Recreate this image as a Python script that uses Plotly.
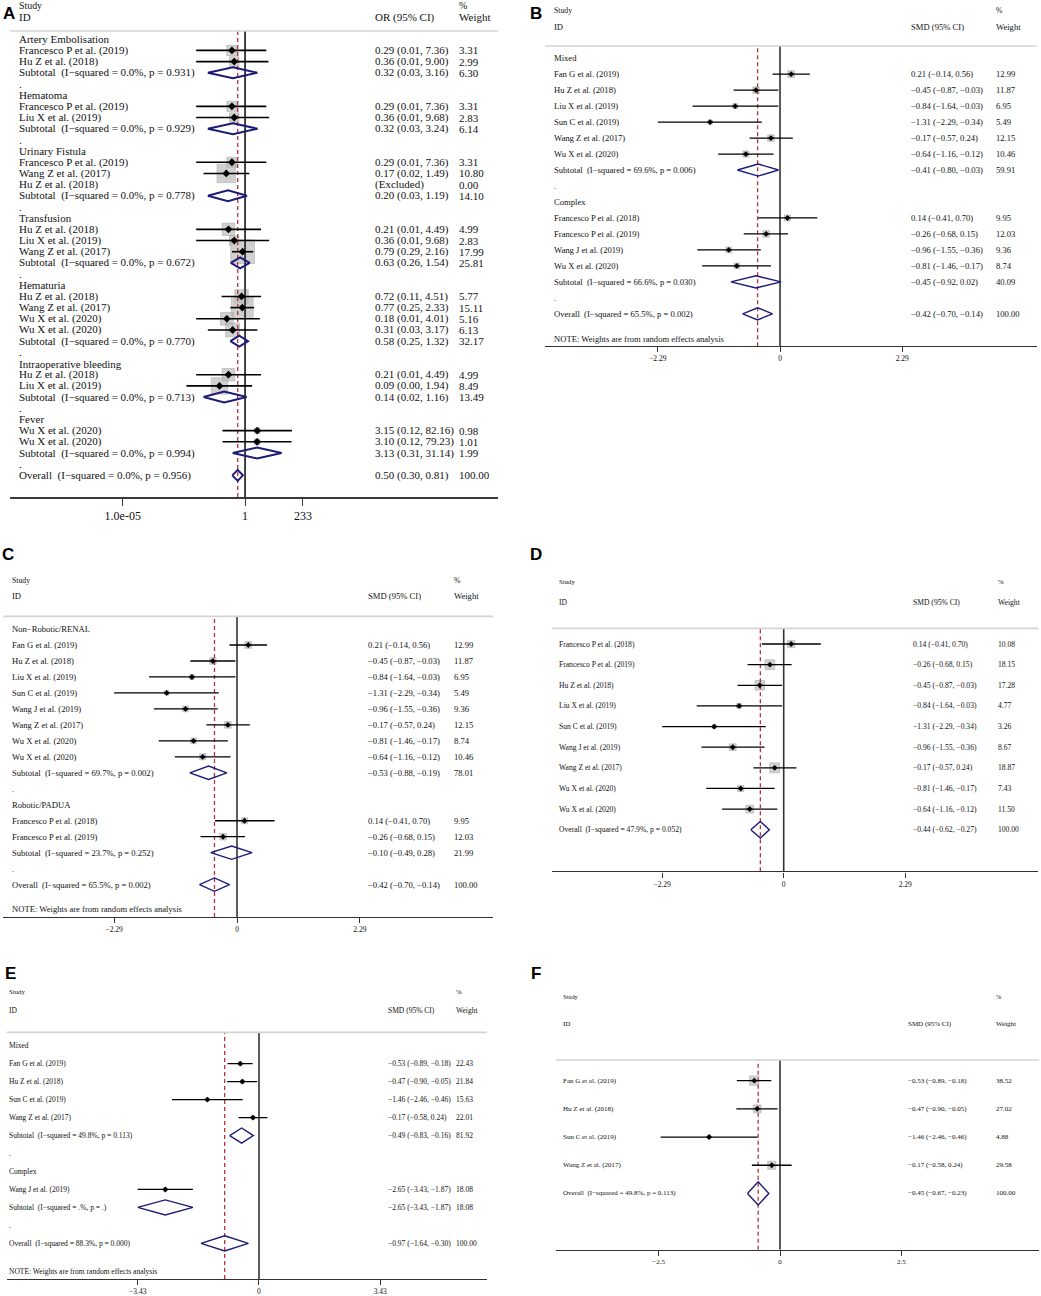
import math
import plotly.graph_objects as go

W, H = 1041, 1296
SERIF = "Liberation Serif, Times New Roman, serif"
SANS = "Liberation Sans, Arial, sans-serif"
NAVY = "#1c1c78"
RED = "#b5323c"

# kind codes: g = group heading, s = study, x = excluded study, t = subtotal,
# o = overall, . = spacer, n = note
NS = "\u00a0 "

# ---- A: complications, odds ratios ----
a_labels = [
    "Artery Embolisation", "Francesco P et al. (2019)", "Hu Z et al. (2018)",
    "Subtotal" + NS + "(I−squared = 0.0%, p = 0.931)", ".",
    "Hematoma", "Francesco P et al. (2019)", "Liu X et al. (2019)",
    "Subtotal" + NS + "(I−squared = 0.0%, p = 0.929)", ".",
    "Urinary Fistula", "Francesco P et al. (2019)", "Wang Z et al. (2017)", "Hu Z et al. (2018)",
    "Subtotal" + NS + "(I−squared = 0.0%, p = 0.778)", ".",
    "Transfusion", "Hu Z et al. (2018)", "Liu X et al. (2019)", "Wang Z et al. (2017)",
    "Subtotal" + NS + "(I−squared = 0.0%, p = 0.672)", ".",
    "Hematuria", "Hu Z et al. (2018)", "Wang Z et al. (2017)", "Wu X et al. (2020)", "Wu X et al. (2020)",
    "Subtotal" + NS + "(I−squared = 0.0%, p = 0.770)", ".",
    "Intraoperative bleeding", "Hu Z et al. (2018)", "Liu X et al. (2019)",
    "Subtotal" + NS + "(I−squared = 0.0%, p = 0.713)", ".",
    "Fever", "Wu X et al. (2020)", "Wu X et al. (2020)",
    "Subtotal" + NS + "(I−squared = 0.0%, p = 0.994)", ".",
    "Overall" + NS + "(I−squared = 0.0%, p = 0.956)",
]
a_kind = "gsst.gsst.gssxt.gssst.gsssst.gsst.gsst.o"
a_est = [0.29, 0.36, 0.32, 0.29, 0.36, 0.32, 0.29, 0.17, 0.20, 0.21, 0.36, 0.79, 0.63,
         0.72, 0.77, 0.18, 0.31, 0.58, 0.21, 0.09, 0.14, 3.15, 3.10, 3.13, 0.50]
a_lo = [0.01, 0.01, 0.03, 0.01, 0.01, 0.03, 0.01, 0.02, 0.03, 0.01, 0.01, 0.29, 0.26,
        0.11, 0.25, 0.01, 0.03, 0.25, 0.01, 0.004, 0.02, 0.12, 0.12, 0.31, 0.30]
a_hi = [7.36, 9.00, 3.16, 7.36, 9.68, 3.24, 7.36, 1.49, 1.19, 4.49, 9.68, 2.16, 1.54,
        4.51, 2.33, 4.01, 3.17, 1.32, 4.49, 1.94, 1.16, 82.16, 79.23, 31.14, 0.81]
a_wt = [3.31, 2.99, 6.30, 3.31, 2.83, 6.14, 3.31, 10.80, 0.00, 14.10, 4.99, 2.83, 17.99, 25.81,
        5.77, 15.11, 5.16, 6.13, 32.17, 4.99, 8.49, 13.49, 0.98, 1.01, 1.99, 100.00]
a_ticks = [1e-05, 1, 233]
a_ticktext = ["1.0e-05", "1", "233"]

NOTE = "NOTE: Weights are from random effects analysis"

# ---- B ----
b_labels = [
    "Mixed", "Fan G et al. (2019)", "Hu Z et al. (2018)", "Liu X et al. (2019)", "Sun C et al. (2019)",
    "Wang Z et al. (2017)", "Wu X et al. (2020)", "Subtotal" + NS + "(I−squared = 69.6%, p = 0.006)", ".",
    "Complex", "Francesco P et al. (2018)", "Francesco P et al. (2019)", "Wang J et al. (2019)",
    "Wu X et al. (2020)", "Subtotal" + NS + "(I−squared = 66.6%, p = 0.030)", ".",
    "Overall" + NS + "(I−squared = 65.5%, p = 0.002)", NOTE,
]
b_kind = "gsssssst.gsssst.on"
b_est = [0.21, -0.45, -0.84, -1.31, -0.17, -0.64, -0.41, 0.14, -0.26, -0.96, -0.81, -0.45, -0.42]
b_lo = [-0.14, -0.87, -1.64, -2.29, -0.57, -1.16, -0.80, -0.41, -0.68, -1.55, -1.46, -0.92, -0.70]
b_hi = [0.56, -0.03, -0.03, -0.34, 0.24, -0.12, -0.03, 0.70, 0.15, -0.36, -0.17, 0.02, -0.14]
b_wt = [12.99, 11.87, 6.95, 5.49, 12.15, 10.46, 59.91, 9.95, 12.03, 9.36, 8.74, 40.09, 100.00]
b_ticks = [-2.29, 0, 2.29]
b_ticktext = ["−2.29", "0", "2.29"]

# ---- C ----
c_labels = [
    "Non−Robotic/RENAL", "Fan G et al. (2019)", "Hu Z et al. (2018)", "Liu X et al. (2019)",
    "Sun C et al. (2019)", "Wang J et al. (2019)", "Wang Z et al. (2017)", "Wu X et al. (2020)",
    "Wu X et al. (2020)", "Subtotal" + NS + "(I−squared = 69.7%, p = 0.002)", ".",
    "Robotic/PADUA", "Francesco P et al. (2018)", "Francesco P et al. (2019)",
    "Subtotal" + NS + "(I−squared = 23.7%, p = 0.252)", ".",
    "Overall" + NS + "(I−squared = 65.5%, p = 0.002)", NOTE,
]
c_kind = "gsssssssst.gsst.on"
c_est = [0.21, -0.45, -0.84, -1.31, -0.96, -0.17, -0.81, -0.64, -0.53, 0.14, -0.26, -0.10, -0.42]
c_lo = [-0.14, -0.87, -1.64, -2.29, -1.55, -0.57, -1.46, -1.16, -0.88, -0.41, -0.68, -0.49, -0.70]
c_hi = [0.56, -0.03, -0.03, -0.34, -0.36, 0.24, -0.17, -0.12, -0.19, 0.70, 0.15, 0.28, -0.14]
c_wt = [12.99, 11.87, 6.95, 5.49, 9.36, 12.15, 8.74, 10.46, 78.01, 9.95, 12.03, 21.99, 100.00]
c_ticks = [-2.29, 0, 2.29]
c_ticktext = ["−2.29", "0", "2.29"]

# ---- D ----
d_labels = [
    "Francesco P et al. (2018)", "Francesco P et al. (2019)", "Hu Z et al. (2018)", "Liu X et al. (2019)",
    "Sun C et al. (2019)", "Wang J et al. (2019)", "Wang Z et al. (2017)", "Wu X et al. (2020)",
    "Wu X et al. (2020)", "Overall" + NS + "(I−squared = 47.9%, p = 0.052)",
]
d_kind = "ssssssssso"
d_est = [0.14, -0.26, -0.45, -0.84, -1.31, -0.96, -0.17, -0.81, -0.64, -0.44]
d_lo = [-0.41, -0.68, -0.87, -1.64, -2.29, -1.55, -0.57, -1.46, -1.16, -0.62]
d_hi = [0.70, 0.15, -0.03, -0.03, -0.34, -0.36, 0.24, -0.17, -0.12, -0.27]
d_wt = [10.08, 18.15, 17.28, 4.77, 3.26, 8.67, 18.87, 7.43, 11.50, 100.00]
d_ticks = [-2.29, 0, 2.29]
d_ticktext = ["−2.29", "0", "2.29"]

# ---- E ----
e_labels = [
    "Mixed", "Fan G et al. (2019)", "Hu Z et al. (2018)", "Sun C et al. (2019)", "Wang Z et al. (2017)",
    "Subtotal" + NS + "(I−squared = 49.8%, p = 0.113)", ".",
    "Complex", "Wang J et al. (2019)", "Subtotal" + NS + "(I−squared = .%, p = .)", ".",
    "Overall" + NS + "(I−squared = 88.3%, p = 0.000)", NOTE,
]
e_kind = "gsssst.gst.on"
e_est = [-0.53, -0.47, -1.46, -0.17, -0.49, -2.65, -2.65, -0.97]
e_lo = [-0.89, -0.90, -2.46, -0.58, -0.83, -3.43, -3.43, -1.64]
e_hi = [-0.18, -0.05, -0.46, 0.24, -0.16, -1.87, -1.87, -0.30]
e_wt = [22.43, 21.84, 15.63, 22.01, 81.92, 18.08, 18.08, 100.00]
e_ticks = [-3.43, 0, 3.43]
e_ticktext = ["−3.43", "0", "3.43"]

# ---- F ----
f_labels = [
    "Fan G et al. (2019)", "Hu Z et al. (2018)", "Sun C et al. (2019)", "Wang Z et al. (2017)",
    "Overall" + NS + "(I−squared = 49.8%, p = 0.113)",
]
f_kind = "sssso"
f_est = [-0.53, -0.47, -1.46, -0.17, -0.45]
f_lo = [-0.89, -0.90, -2.46, -0.58, -0.67]
f_hi = [-0.18, -0.05, -0.46, 0.24, -0.23]
f_wt = [38.52, 27.02, 4.88, 29.58, 100.00]
f_ticks = [-2.5, 0, 2.5]
f_ticktext = ["−2.5", "0", "2.5"]


# panel layout, all in pixels of the 1041x1296 page
geom = {
    "A": dict(lx=9, ly=14, left=10, right=498, top=31, bottom=497.7, row0=39.3, step=11.2,
              xtype="log", xr=[-9.61, 10.34], col_lab=17.3, col_est=373, col_wt=456.7,
              h1=6, h2=17.5, est_head="OR (95% CI)", fs=11, tfs=12, tl=7,
              sq=5.6, dia=0.49, lw=1.6, dlw=2.0, pt=6, axw=1.6, axc="#3a3a3a"),
    "B": dict(lx=536, ly=14, left=545, right=1036.7, top=46, bottom=346.7, row0=58.3, step=16,
              xtype="linear", xr=[-4.404, 4.81], col_lab=552.3, col_est=909, col_wt=994,
              h1=10.7, h2=26.7, est_head="SMD (95% CI)", fs=8.6, tfs=7.5, tl=5,
              sq=1.9, dia=0.38, lw=1.3, dlw=1.4, pt=4.5, axw=1.3, axc="#333333"),
    "C": dict(lx=8, ly=555, left=3.3, right=493.3, top=617.3, bottom=918.3, row0=630, step=16,
              xtype="linear", xr=[-4.356, 4.777], col_lab=10, col_est=366, col_wt=451.7,
              h1=581.7, h2=597.3, est_head="SMD (95% CI)", fs=8.6, tfs=7.5, tl=5,
              sq=1.9, dia=0.42, lw=1.3, dlw=1.4, pt=4.5, axw=1.3, axc="#333333"),
    "D": dict(lx=536, ly=555, left=551.7, right=1038.3, top=629.3, bottom=872.7, row0=645, step=20.67,
              xtype="linear", xr=[-4.372, 4.798], col_lab=557.3, col_est=911, col_wt=996,
              h1=582.7, h2=603.3, est_head="SMD (95% CI)", fs=7.6, tfs=7.5, tl=5,
              sq=2.3, dia=0.4, lw=1.3, dlw=1.4, pt=4.5, axw=1.3, axc="#333333"),
    "E": dict(lx=10, ly=975, left=6.7, right=486.7, top=1034, bottom=1281, row0=1047.3, step=18,
              xtype="linear", xr=[-7.135, 6.44], col_lab=6.7, col_est=386, col_wt=454,
              h1=993.3, h2=1011.7, est_head="SMD (95% CI)", fs=7.5, tfs=7.5, tl=5,
              sq=0.8, dia=0.42, lw=1.3, dlw=1.4, pt=4.5, axw=1.3, axc="#333333"),
    "F": dict(lx=536, ly=975, left=556, right=1039.3, top=1061.7, bottom=1251.7, row0=1082.3, step=28.25,
              xtype="linear", xr=[-4.615, 5.342], col_lab=560.7, col_est=906, col_wt=994,
              h1=997.7, h2=1026, est_head="SMD (95% CI)", fs=7.0, tfs=7, tl=5,
              sq=1.5, dia=0.41, lw=1.3, dlw=1.4, pt=4.5, axw=1.3, axc="#333333"),
}


def num(v):
    return f"{v:.2f}".replace("-", "−")


fig = go.Figure()
anns = []
shapes = []


def txt(text, x, y, yref, size, anchor="middle"):
    anns.append(dict(text=text, x=x / W, xref="paper", y=y, yref=yref, xanchor="left",
                     yanchor=anchor, showarrow=False,
                     font=dict(family=SERIF, size=size, color="#111111")))


def panel(n, letter, labels, kind, est, lo, hi, wt, ticks, ticktext):
    g = geom[letter]
    sx = "" if n == 1 else str(n)
    xa, ya = "x" + sx, "y" + sx
    r_top = (g["top"] - g["row0"]) / g["step"]
    r_bot = (g["bottom"] - g["row0"]) / g["step"]

    sq_x, sq_y, sq_s = [], [], []
    ci_x, ci_y, pt_x, pt_y, dm_x, dm_y = [], [], [], [], [], []
    overall = None
    vals = iter(zip(est, lo, hi))
    wts = iter(wt)
    for i, (lab, k) in enumerate(zip(labels, kind)):
        y = i + 0.55 if k == "n" else i
        txt(lab, g["col_lab"], y, ya, g["fs"])
        if k == "x":
            txt("(Excluded)", g["col_est"], y, ya, g["fs"])
            txt(f"{next(wts):.2f}", g["col_wt"], y, ya, g["fs"])
        elif k in ("s", "t", "o"):
            e, l, h = next(vals)
            w = next(wts)
            txt(f"{num(e)} ({num(l)}, {num(h)})", g["col_est"], y, ya, g["fs"])
            txt(f"{w:.2f}", g["col_wt"], y, ya, g["fs"])
            if k == "s":
                sq_x.append(e)
                sq_y.append(y)
                sq_s.append(g["sq"] * math.sqrt(w))
                ci_x += [l, h, None]
                ci_y += [y, y, None]
                pt_x.append(e)
                pt_y.append(y)
            else:
                d = g["dia"]
                dm_x += [l, e, h, e, l, None]
                dm_y += [y, y - d, y, y + d, y, None]
                if k == "o":
                    overall = e

    null = 1 if g["xtype"] == "log" else 0
    fig.add_trace(go.Scatter(x=sq_x, y=sq_y, mode="markers", xaxis=xa, yaxis=ya,
                             marker=dict(symbol="square", size=sq_s, color="#bdbdbd",
                                         line=dict(color="#8f8f8f", width=0.6))))
    fig.add_trace(go.Scatter(x=[null, null], y=[r_bot, r_top], mode="lines", xaxis=xa, yaxis=ya,
                             line=dict(color=g["axc"], width=g["axw"] + 0.3)))
    fig.add_trace(go.Scatter(x=[overall, overall], y=[r_bot, r_top], mode="lines", xaxis=xa, yaxis=ya,
                             line=dict(color=RED, width=1.3, dash="4px,3px")))
    fig.add_trace(go.Scatter(x=ci_x, y=ci_y, mode="lines", xaxis=xa, yaxis=ya,
                             line=dict(color="black", width=g["lw"])))
    fig.add_trace(go.Scatter(x=pt_x, y=pt_y, mode="markers", xaxis=xa, yaxis=ya,
                             marker=dict(symbol="diamond", size=g["pt"], color="black")))
    fig.add_trace(go.Scatter(x=dm_x, y=dm_y, mode="lines", xaxis=xa, yaxis=ya,
                             line=dict(color=NAVY, width=g["dlw"])))

    fig.update_layout(**{
        "xaxis" + sx: dict(domain=[g["left"] / W, g["right"] / W], range=g["xr"], type=g["xtype"],
                           anchor=ya, showgrid=False, zeroline=False, showline=True,
                           linecolor=g["axc"], linewidth=g["axw"], ticks="outside", ticklen=g["tl"],
                           tickwidth=1, tickcolor=g["axc"], tickvals=ticks, ticktext=ticktext,
                           tickfont=dict(family=SERIF, size=g["tfs"], color="#111111")),
        "yaxis" + sx: dict(domain=[1 - g["bottom"] / H, 1 - g["top"] / H], range=[r_bot, r_top],
                           anchor=xa, visible=False),
    })

    # header rule and column titles
    shapes.append(dict(type="line", xref="paper", yref="paper", x0=g["left"] / W, x1=g["right"] / W,
                       y0=1 - g["top"] / H, y1=1 - g["top"] / H,
                       line=dict(color="#d4d4d4", width=1.6)))
    hs = g["fs"] * 0.9
    txt("Study", g["col_lab"], 1 - g["h1"] / H, "paper", hs)
    txt("ID", g["col_lab"], 1 - g["h2"] / H, "paper", g["fs"])
    txt(g["est_head"], g["col_est"], 1 - g["h2"] / H, "paper", g["fs"])
    txt("%", g["col_wt"], 1 - g["h1"] / H, "paper", hs)
    txt("Weight", g["col_wt"], 1 - g["h2"] / H, "paper", g["fs"])
    anns.append(dict(text="<b>" + letter + "</b>", x=g["lx"] / W, y=1 - g["ly"] / H,
                     xref="paper", yref="paper", xanchor="center", yanchor="middle",
                     showarrow=False, font=dict(family=SANS, size=17, color="black")))


panel(1, "A", a_labels, a_kind, a_est, a_lo, a_hi, a_wt, a_ticks, a_ticktext)
panel(2, "B", b_labels, b_kind, b_est, b_lo, b_hi, b_wt, b_ticks, b_ticktext)
panel(3, "C", c_labels, c_kind, c_est, c_lo, c_hi, c_wt, c_ticks, c_ticktext)
panel(4, "D", d_labels, d_kind, d_est, d_lo, d_hi, d_wt, d_ticks, d_ticktext)
panel(5, "E", e_labels, e_kind, e_est, e_lo, e_hi, e_wt, e_ticks, e_ticktext)
panel(6, "F", f_labels, f_kind, f_est, f_lo, f_hi, f_wt, f_ticks, f_ticktext)

fig.update_layout(width=W, height=H, margin=dict(l=0, r=0, t=0, b=0),
                  paper_bgcolor="white", plot_bgcolor="white", showlegend=False,
                  annotations=anns, shapes=shapes)
# the page body has a default 8px margin; drop it so the figure sits at the window corner
fig.write_html("out.html", config={"displayModeBar": False},
               post_script="document.body.style.margin='0';")
